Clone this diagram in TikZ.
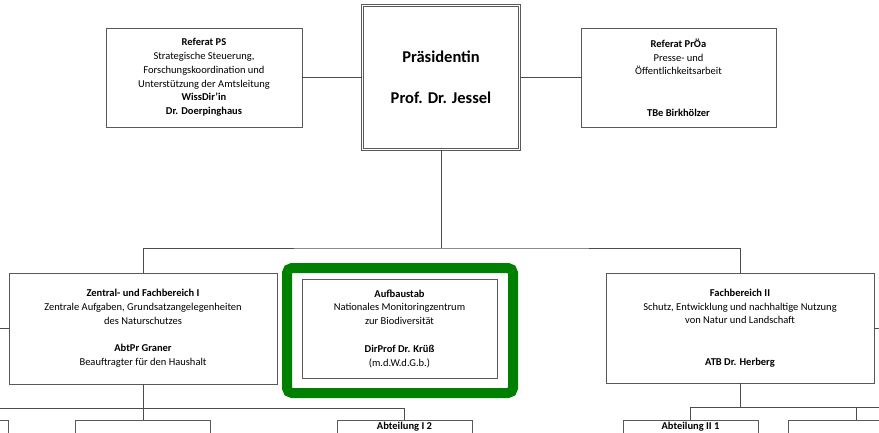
\documentclass[tikz,border=0pt]{standalone}
\usepackage{fontspec}
\setmainfont{Carlito}
\usepackage{tikz}
\definecolor{markgreen}{RGB}{0,128,0}

\begin{document}
\begin{tikzpicture}[x=1pt,y=-1pt,
    unit/.style={draw=black!65,line width=0.8pt,fill=white,align=center,inner sep=0pt,
        font=\fontsize{10.5}{13.8}\selectfont},
    link/.style={draw=black!70,line width=0.8pt},
    sub/.style={unit,anchor=north,minimum width=135,text height=9pt,text depth=51pt}]

    \useasboundingbox (0,0) rectangle (879,432);
    \clip (0,0) rectangle (879,432);

    \node[unit,double,double distance=1.6pt,minimum width=157,minimum height=144,
          font=\fontsize{16.5}{20.5}\selectfont\bfseries] (praes) at (441,77.5)
          {Präsidentin\\[20pt]Prof. Dr. Jessel};
    \node[unit,minimum width=196,minimum height=99] (ps) at (204,77.5)
          {\textbf{Referat PS}\\Strategische Steuerung,\\Forschungskoordination und\\Unterstützung der Amtsleitung\\\textbf{WissDir'in}\\\textbf{Dr. Doerpinghaus}};
    \node[unit,minimum width=195,minimum height=99] (proea) at (678.5,77.5)
          {\textbf{Referat PrÖa}\\Presse- und\\Öffentlichkeitsarbeit\\[27.6pt]\textbf{TBe Birkhölzer}};

    \node[unit,minimum width=268,minimum height=111] (zfb1) at (143,328.5)
          {\textbf{Zentral- und Fachbereich I}\\Zentrale Aufgaben, Grundsatzangelegenheiten\\des Naturschutzes\\[13.8pt]\textbf{AbtPr Graner}\\Beauftragter für den Haushalt};
    \node[draw=markgreen,line width=10pt,rounded corners=5pt,minimum width=226,minimum height=125] (mark) at (400,330.5) {};
    \node[unit,minimum width=195,minimum height=99] (nmz) at (399.5,328.5)
          {\textbf{Aufbaustab}\\Nationales Monitoringzentrum\\zur Biodiversität\\[13.8pt]\textbf{DirProf Dr. Krüß}\\(m.d.W.d.G.b.)};
    \node[unit,minimum width=268,minimum height=110] (fb2) at (740,328)
          {\textbf{Fachbereich II}\\Schutz, Entwicklung und nachhaltige Nutzung\\von Natur und Landschaft\\[27.6pt]\textbf{ATB Dr. Herberg}};

    \node[sub] (a0) at (-59.5,420) {};
    \node[sub] (a1) at (143,420) {};
    \node[sub] (a2) at (404.5,420) {\textbf{Abteilung I 2}};
    \node[sub] (a3) at (690.5,420) {\textbf{Abteilung II 1}};
    \node[sub] (a4) at (856,420) {};

    \coordinate (top) at (441,248);
    \coordinate (lin) at (0,328.5);
    \coordinate (rin) at (879,328);
    \coordinate (lbus) at (0,408);
    \coordinate (rbus) at (879,407);

    \draw[link] (ps) -- (praes);
    \draw[link] (praes) -- (proea);
    \draw[link] (praes.south) -- (top);
    \draw[link] (zfb1.north) |- (top) -| (fb2.north);
    \draw[link] (zfb1.west) -- (lin);
    \draw[link] (fb2.east) -- (rin);

    \draw[link] (zfb1.south) -- (a1.north);
    \draw[link] (lbus) -| (a2.north);
    \draw[link] (fb2.south) -- (fb2.south |- rbus);
    \draw[link] (a3.north) |- (rbus);
    \draw[link] (a4.north) -- (a4.north |- rbus);
\end{tikzpicture}
\end{document}
